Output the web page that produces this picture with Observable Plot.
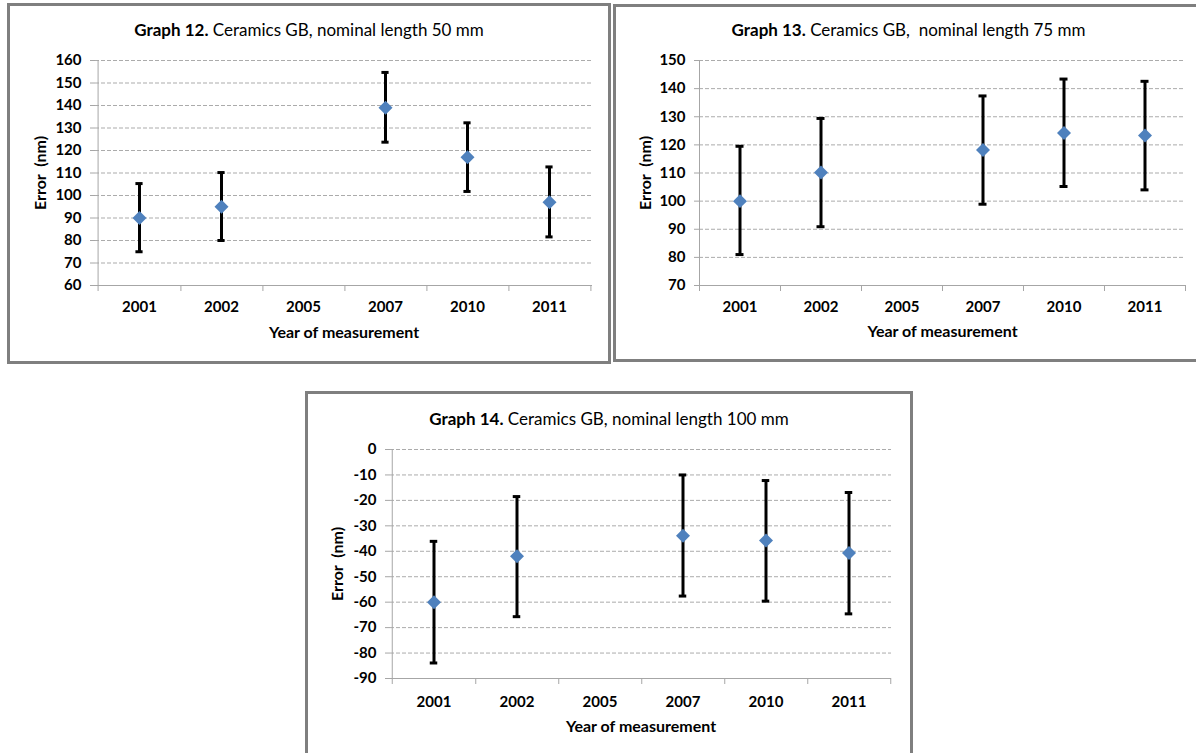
<!DOCTYPE html>
<html><head><meta charset="utf-8">
<script src="https://cdn.jsdelivr.net/npm/d3@7"></script>
<script src="https://cdn.jsdelivr.net/npm/@observablehq/plot@0.6"></script>
<style>
html,body{margin:0;padding:0;background:#fff;width:1196px;height:753px;overflow:hidden;}
#root{position:relative;width:1196px;height:753px;font-family:Lato,"Open Sans",sans-serif;overflow:hidden;}
.frame{position:absolute;box-sizing:border-box;border:3px solid #7f7f7f;pointer-events:none;}
.title{position:absolute;text-align:center;font-size:17px;line-height:20px;color:#000;white-space:pre;}
.panel{position:absolute;}
.panel svg{display:block;max-width:none !important;}
</style></head><body><div id="root"></div>
<script>
// ---- data ----
const years = ["2001", "2002", "2005", "2007", "2010", "2011"];
const measuredYears = ["2001", "2002", "2007", "2010", "2011"];
const graphLabels = ["Graph 12.", "Graph 13.", "Graph 14."];
const graphTitles = [" Ceramics GB, nominal length 50 mm", " Ceramics GB,  nominal length 75 mm", " Ceramics GB, nominal length 100 mm"];
const xTitle = "Year of measurement";
const yTitle = "Error  (nm)";

const value50 = [90, 95, 139, 117, 97];
const low50 = [75, 80, 123.7, 101.8, 81.6];
const high50 = [105.3, 110.2, 154.7, 132.3, 112.7];
const ticks50 = [60, 70, 80, 90, 100, 110, 120, 130, 140, 150, 160];

const value75 = [100, 110.2, 118.2, 124.2, 123.3];
const low75 = [81, 90.9, 98.9, 105.2, 104];
const high75 = [119.5, 129.4, 137.4, 143.4, 142.6];
const ticks75 = [70, 80, 90, 100, 110, 120, 130, 140, 150];

const value100 = [-60, -42, -33.9, -35.8, -40.7];
const low100 = [-83.9, -65.7, -57.6, -59.6, -64.6];
const high100 = [-36.1, -18.5, -10, -12.2, -16.9];
const ticks100 = [-90, -80, -70, -60, -50, -40, -30, -20, -10, 0];

// ---- layout ----
const panels = [
  {frame: {l: 7, t: 3, r: 611, b: 364}, plot: {l: 95, r: 592, t: 60, b: 285}, titleY: 30,
   value: value50, low: low50, high: high50, ticks: ticks50, xPad: 16, xTitleDy: 47, yTitleDx: -55},
  {frame: {l: 613, t: 4, r: 1204, b: 362}, plot: {l: 699, r: 1185, t: 60, b: 285}, titleY: 30,
   value: value75, low: low75, high: high75, ticks: ticks75, xPad: 15.5, xTitleDy: 46, yTitleDx: -54},
  {frame: {l: 305, t: 391, r: 913, b: 760}, plot: {l: 390, r: 891, t: 449, b: 678}, titleY: 419,
   value: value100, low: low100, high: high100, ticks: ticks100, xPad: 17.5, xTitleDy: 48, yTitleDx: -52.5}
];

const root = document.getElementById("root");
const axisColor = "#a6a6a6";
const font = "Lato, 'Open Sans', sans-serif";

panels.forEach((cfg, k) => {
  const {frame, plot, ticks} = cfg;
  const width = frame.r - frame.l, height = frame.b - frame.t;
  const bw = (plot.r - plot.l) / years.length;
  const domain = [ticks[0], ticks[ticks.length - 1]];
  const data = measuredYears.map((year, i) => ({year, value: cfg.value[i], low: cfg.low[i], high: cfg.high[i]}));
  const capInset = (bw - 8) / 2;

  const svg = Plot.plot({
    width, height,
    marginLeft: plot.l - frame.l, marginRight: frame.r - plot.r,
    marginTop: plot.t - frame.t, marginBottom: frame.b - plot.b,
    style: {fontFamily: font, color: "#000", background: "transparent", overflow: "visible", whiteSpace: "pre", maxWidth: "none"},
    x: {type: "band", domain: years, padding: 0, axis: null},
    y: {domain, axis: null},
    marks: [
      Plot.gridY(ticks.slice(1), {stroke: "#ababab", strokeOpacity: 1, strokeDasharray: "4,2"}),
      Plot.ruleY([domain[0]], {stroke: axisColor}),
      Plot.ruleX([years[0]], {x: d => d, dx: -bw / 2, stroke: axisColor, insetBottom: -6}),
      Plot.ruleX(years, {x: d => d, dx: bw / 2, y1: domain[0], y2: domain[0], insetBottom: -6, stroke: axisColor}),
      Plot.axisY({ticks, tickSize: 5, tickPadding: 9, stroke: axisColor, fontSize: 15, fontWeight: "bold",
                  tickFormat: d => String(d), label: null}),
      Plot.axisX({tickSize: 0, tickPadding: cfg.xPad, fontSize: 15, fontWeight: "bold", label: null}),
      Plot.text([xTitle], {text: d => d, frameAnchor: "bottom", dy: cfg.xTitleDy, textAnchor: "middle",
                           lineAnchor: "middle", fontSize: 16, fontWeight: "bold"}),
      Plot.text([yTitle], {text: d => d, frameAnchor: "left", rotate: -90, dx: cfg.yTitleDx, textAnchor: "middle",
                           lineAnchor: "middle", fontSize: 16, fontWeight: "bold"}),
      Plot.ruleX(data, {x: "year", y1: "low", y2: "high", stroke: "#000", strokeWidth: 3}),
      Plot.tickY(data, {x: "year", y: "low", stroke: "#000", strokeWidth: 3, insetLeft: capInset, insetRight: capInset}),
      Plot.tickY(data, {x: "year", y: "high", stroke: "#000", strokeWidth: 3, insetLeft: capInset, insetRight: capInset}),
      Plot.dot(data, {x: "year", y: "value", symbol: "diamond2", r: 6.3, fill: "#4f81bd"})
    ]
  });

  const holder = document.createElement("div");
  holder.className = "panel";
  holder.style.left = frame.l + "px";
  holder.style.top = frame.t + "px";
  holder.style.width = width + "px";
  holder.style.height = height + "px";
  holder.appendChild(svg);
  root.appendChild(holder);

  const title = document.createElement("div");
  title.className = "title";
  title.style.left = frame.l + "px";
  title.style.width = width + "px";
  title.style.top = (cfg.titleY - 10) + "px";
  const b = document.createElement("b");
  b.textContent = graphLabels[k];
  title.appendChild(b);
  title.appendChild(document.createTextNode(graphTitles[k]));
  root.appendChild(title);

  const border = document.createElement("div");
  border.className = "frame";
  border.style.left = frame.l + "px";
  border.style.top = frame.t + "px";
  border.style.width = width + "px";
  border.style.height = height + "px";
  root.appendChild(border);
});
</script>
</body></html>
